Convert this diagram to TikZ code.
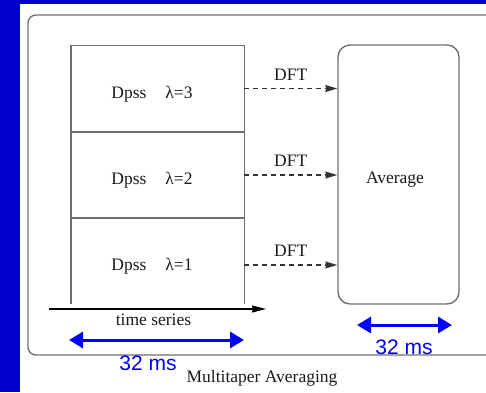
\documentclass[tikz,border=0pt]{standalone}
\usepackage{fontspec}
\setmainfont{Liberation Serif}
\newfontfamily\arialfont{Liberation Sans}
\usetikzlibrary{arrows.meta}
\definecolor{bgblue}{HTML}{0000CC}
\definecolor{frame}{HTML}{707070}
\definecolor{msblue}{HTML}{0000EE}
\begin{document}
\begin{tikzpicture}[x=1pt,y=-1pt,
  cell/.style={rectangle,draw=none,minimum width=173pt,minimum height=86pt,inner sep=0pt},
  txt/.style={anchor=base,inner sep=0pt,text=black!90,font=\fontsize{17.5}{20}\selectfont},
  ms/.style={anchor=base,inner sep=0pt,text=msblue,font=\arialfont\fontsize{21}{24}\selectfont},
  dft/.style={draw=black!80,line width=1.1pt,dash pattern=on 5pt off 4pt,-{Stealth[length=12pt,width=7pt,inset=1pt]}},
  bluearrow/.style={draw=blue,line width=3pt,{Triangle[length=14pt,width=16pt]}-{Triangle[length=14pt,width=16pt]}},
  frameline/.style={draw=frame,line width=1.4pt}
]
\useasboundingbox (0,0) rectangle (486,392);
% blue background bands
\fill[bgblue] (0,0) rectangle (20,392);
\fill[bgblue] (0,0) rectangle (486,4);
% outer rounded frame
\draw[frameline,rounded corners=8pt] (28,15) rectangle (494,355);
% cells
\node[cell] (c3) at (157.5,88.5) {};
\node[cell] (c2) at (157.5,175) {};
\node[cell] (c1) at (157.5,261) {};
\draw[frameline] (c1.south west) -- (c3.north west) -- (c3.north east) -- (c1.south east);
\draw[frameline] (c2.north west) -- (c2.north east);
\draw[frameline] (c1.north west) -- (c1.north east);
\node[txt] (t3) at (152,98) {Dpss\hspace{19pt}λ=3};
\node[txt] (t2) at (152,184) {Dpss\hspace{19pt}λ=2};
\node[txt] (t1) at (152,270) {Dpss\hspace{19pt}λ=1};
% average box
\node[rectangle,draw=frame,line width=1.4pt,rounded corners=12pt,minimum width=121pt,minimum height=259pt,inner sep=0pt] (avg) at (398.5,174.5) {};
\node[txt] (avgt) at (395,183) {Average};
% DFT arrows
\coordinate (s3) at (c3.east);
\coordinate (s2) at (c2.east);
\coordinate (s1) at ([yshift=-4pt]c1.east);
\draw[dft] (s3) -- (s3 -| avg.west) node[txt,midway,yshift=8.5pt] (d3) {DFT};
\draw[dft] (s2) -- (s2 -| avg.west) node[txt,midway,yshift=8.5pt] (d2) {DFT};
\draw[dft] (s1) -- (s1 -| avg.west) node[txt,midway,yshift=8.5pt] (d1) {DFT};
% time axis
\coordinate (ta) at (49,309);
\coordinate (tb) at (266,309);
\draw[line width=1.1pt,-{Stealth[length=14pt,width=7pt,inset=1pt]}] (ta) -- (tb);
\node[txt] (ts) at (153.5,325) {time series};
% blue arrows
\coordinate (la) at (69,340);
\coordinate (lb) at (244,340);
\draw[bluearrow] (la) -- (lb);
\coordinate (ra) at (357,325);
\coordinate (rb) at (452,325);
\draw[bluearrow] (ra) -- (rb);
\node[ms] (ms1) at (148,370) {32 ms};
\node[ms] (ms2) at (404,354) {32 ms};
\node[txt] (cap) at (262,382) {Multitaper Averaging};
\end{tikzpicture}
\end{document}
